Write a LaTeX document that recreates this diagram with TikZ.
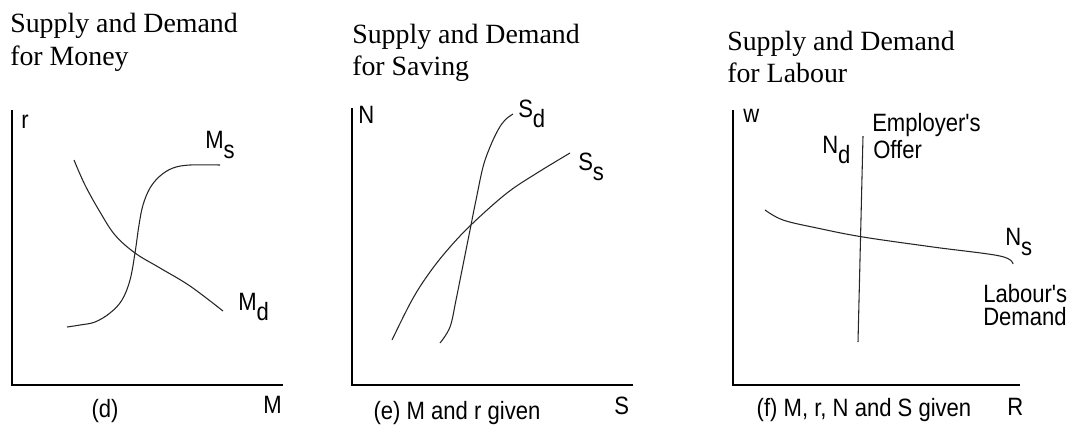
\documentclass[tikz,border=0pt]{standalone}
\usepackage{fontspec}
\setmainfont{Liberation Serif}
\newfontfamily\labfont[FakeStretch=0.88]{Liberation Sans}
\usetikzlibrary{positioning}
\newcommand{\lowsub}[1]{\raisebox{-0.42em}{#1}}

\begin{document}
\begin{tikzpicture}[x=0.75pt,y=-0.75pt,
				ttl/.style={anchor=base west,inner sep=0pt,font=\fontsize{20.9}{25}\selectfont\rmfamily},
				lab/.style={anchor=base west,inner sep=0pt,font=\fontsize{18.8}{22}\selectfont\labfont},
				capline/.style={lab,anchor=base},
				axis/.style={line width=1.5pt,black},
				curve/.style={line width=0.8pt,black!85}
				]
				\useasboundingbox (0,0) rectangle (1070,430);
				
				% (d) money
				\node[ttl] (t1a) at (10,32) {Supply and Demand};
				\node[ttl] (t1b) at (10,65) {for Money};
				\coordinate (o1) at (12,385);
				\draw[axis] (12,110) -- (o1) -- (283,385);
				\node[lab] (r1) at (21,128) {r};
				\node[lab] (m1) at (263,413) {M};
				\node[capline] (c1) at (105,417) {(d)};
				\draw[curve] plot[smooth,tension=0.6] coordinates {(74,160) (85,185) (100,212) (115,235) (135,253) (160,268) (190,286) (223,311)};
				\draw[curve] plot[smooth,tension=0.6] coordinates {(67,327) (80,325) (95,322) (110,313) (122,300) (130,280) (135,253) (139,225) (143,205) (150,188) (160,176) (173,168) (190,165) (220,165)};
				\node[lab] (ms) at (205,148) {M\lowsub{s}};
				\node[lab] (md) at (238,310) {M\lowsub{d}};
				
				% (e) saving
				\node[ttl] (t2a) at (352,43) {Supply and Demand};
				\node[ttl] (t2b) at (352,75) {for Saving};
				\coordinate (o2) at (352,385);
				\draw[axis] (352,108) -- (o2) -- (633,385);
				\node[lab] (n2) at (358,123) {N};
				\node[lab] (s2) at (614,414) {S};
				\node[capline] (c2) at (457,419) {(e) M and r given};
				\draw[curve] plot[smooth,tension=0.6] coordinates {(440,343) (450,327) (456,300) (462,270) (470,230) (476,200) (483,167) (490,147) (498,130) (505,120) (513,114)};
				\draw[curve] plot[smooth,tension=0.6] coordinates {(392,340) (412,300) (430,272) (450,247) (473,223) (507,193) (537,173) (570,153)};
				\node[lab] (sd) at (518,117) {S\lowsub{d}};
				\node[lab] (ss) at (578,170) {S\lowsub{s}};
				
				% (f) labour
				\node[ttl] (t3a) at (727,50) {Supply and Demand};
				\node[ttl] (t3b) at (727,82) {for Labour};
				\coordinate (o3) at (733,385);
				\draw[axis] (733,110) -- (o3) -- (1020,385);
				\node[lab] (w3) at (743,122) {w};
				\node[lab] (r3) at (1007,415) {R};
				\node[capline] (c3) at (864,416) {(f) M, r, N and S given};
				\draw[curve] (863,136) -- (858,342);
				\draw[curve] plot[smooth,tension=0.6] coordinates {(765,210) (783,220) (817,228) (863,237) (933,247) (1000,256) (1013,264)};
				\node[lab] (nd) at (822,153) {N\lowsub{d}};
				\node[lab] (eo1) at (872,131) {Employer's};
				\node[lab] (eo2) at (873,158) {Offer};
				\node[lab] (ns) at (1005,245) {N\lowsub{s}};
				\node[lab] (ld1) at (983,302) {Labour's};
				\node[lab] (ld2) at (983,325) {Demand};
\end{tikzpicture}
\end{document}
